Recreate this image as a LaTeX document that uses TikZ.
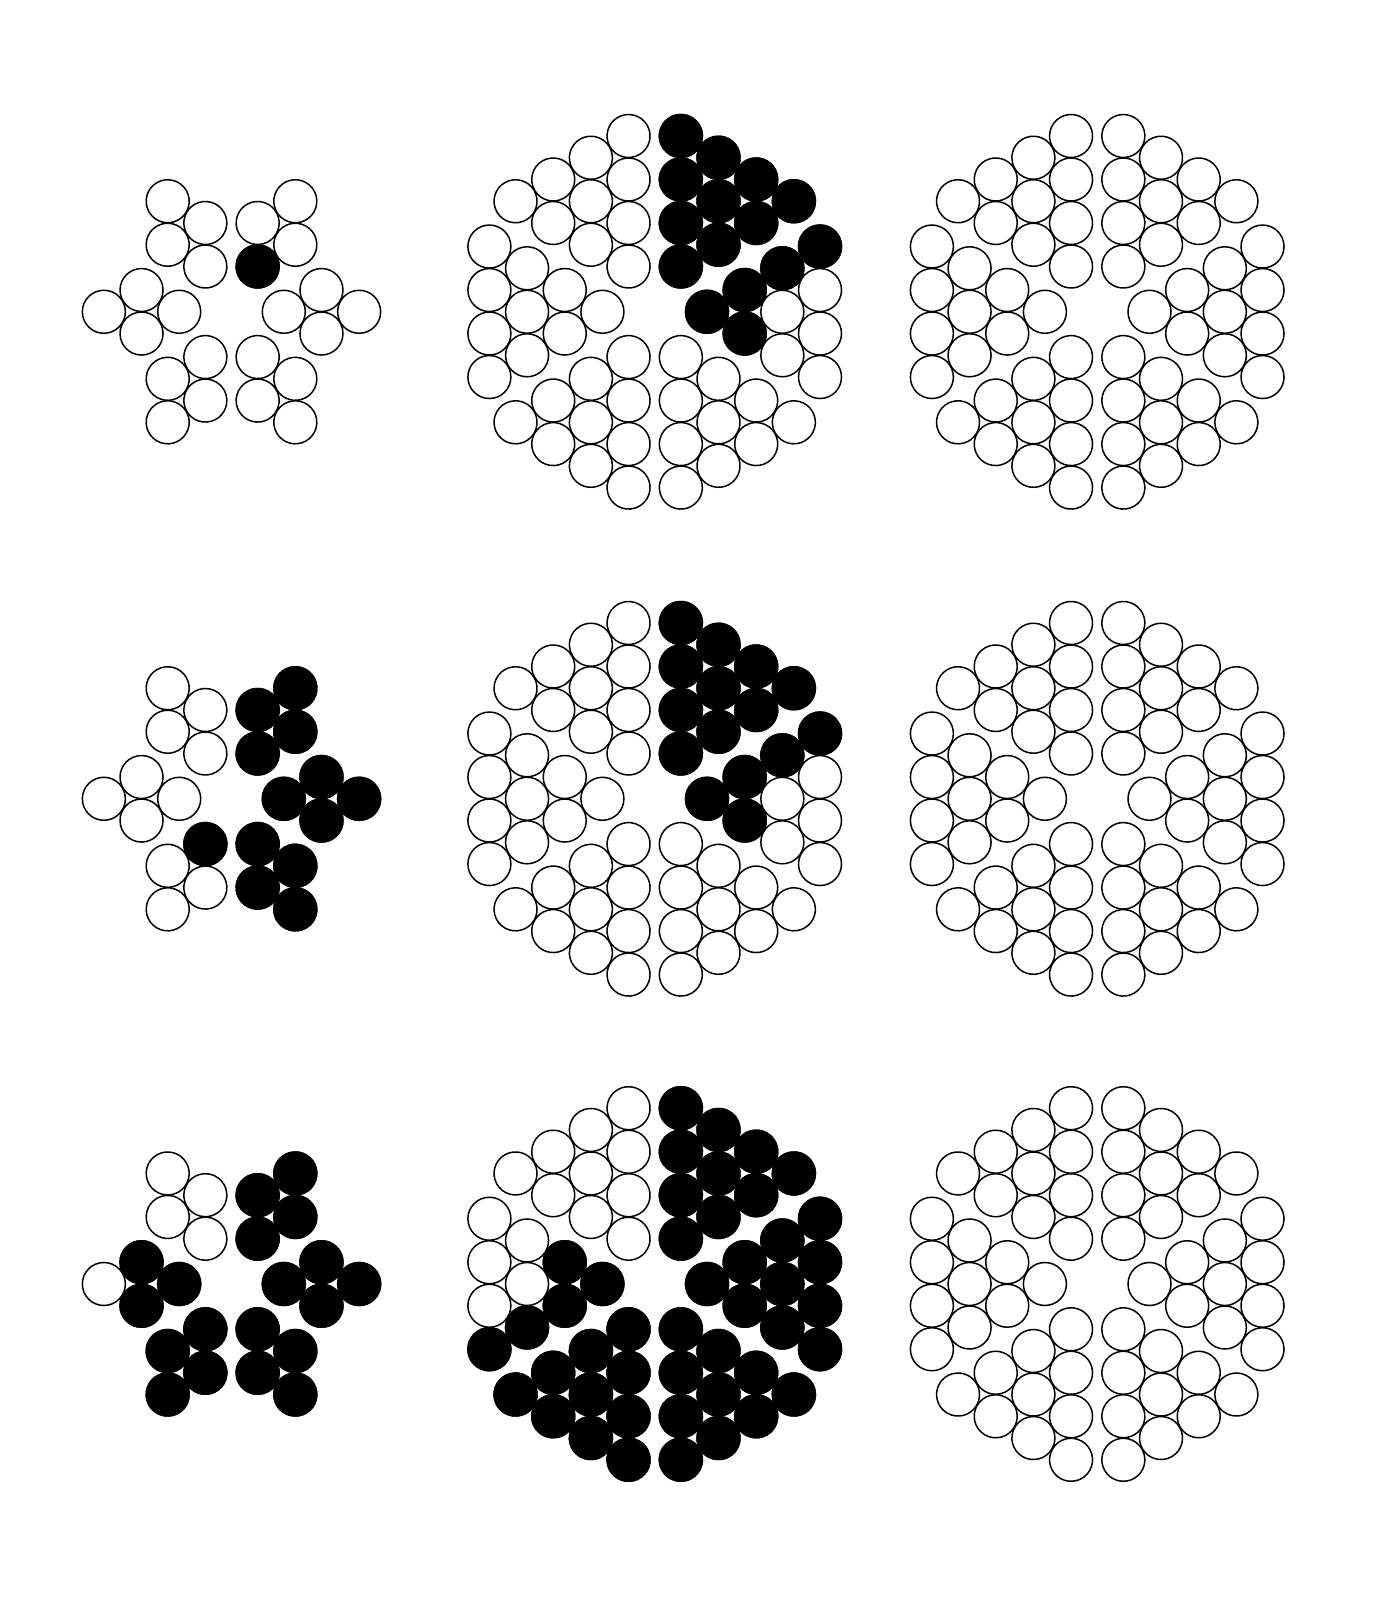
\documentclass[tikz,border=0pt]{standalone}
\def\cZ{52.3}\def\cH{37.67}\def\cD{43.5}\def\cR{21.5}
\tikzset{
  wc/.style={draw=black,line width=1.5pt,fill=white},
  bc/.style={draw=black,line width=1.5pt,fill=black}}
% one circle of a sector: #1 style, j, i
\newcommand\OneCirc[3]{\draw[#1] ({\cZ+#2*\cH},{(#3-#2/2)*\cD}) circle[radius=\cR];}
% big figure: six triangular sectors of 10 circles
\newcommand\BigFig[2]{%
  \foreach \t in {0,60,...,300}{%
    \begin{scope}[shift={(#1,#2)},rotate=\t]
      \foreach \j in {0,...,3}{\foreach \i in {0,...,\j}{\OneCirc{wc}{\j}{\i}}}
    \end{scope}}}
% small figure: six rhombi of 4 circles
\newcommand\SmallFig[2]{%
  \foreach \t in {0,60,...,300}{%
    \begin{scope}[shift={(#1,#2)},rotate=\t]
      \foreach \j/\i in {0/0,1/0,1/1,2/1}{\OneCirc{wc}{\j}{\i}}
    \end{scope}}}
% black circles: centre x, centre y, sector angle, list of j/i
\newcommand\Blk[4]{%
  \begin{scope}[shift={(#1,#2)},rotate=#3]
    \foreach \j/\i in {#4}{\OneCirc{bc}{\j}{\i}}
  \end{scope}}
\begin{document}
\begin{tikzpicture}[x=1pt,y=1pt]
\fill[white] (0,0) rectangle (1392,1598);
\useasboundingbox (0,0) rectangle (1392,1598);
% ---- row 1
\SmallFig{231.5}{1286.2}
\BigFig{654.7}{1286.2}
\BigFig{1097.2}{1286.2}
\Blk{231.5}{1286.2}{60}{0/0}
\Blk{654.7}{1286.2}{60}{0/0,1/0,1/1,2/0,2/1,2/2,3/0,3/1,3/2,3/3}
\Blk{654.7}{1286.2}{0}{0/0,1/0,1/1,2/2,3/3}
% ---- row 2
\SmallFig{231.5}{799.2}
\BigFig{654.7}{799.2}
\BigFig{1097.2}{799.2}
\foreach \s in {0,60,300}{\Blk{231.5}{799.2}{\s}{0/0,1/0,1/1,2/1}}
\Blk{231.5}{799.2}{240}{0/0}
\Blk{654.7}{799.2}{60}{0/0,1/0,1/1,2/0,2/1,2/2,3/0,3/1,3/2,3/3}
\Blk{654.7}{799.2}{0}{0/0,1/0,1/1,2/2,3/3}
% ---- row 3
\SmallFig{231.5}{314}
\BigFig{654.7}{314}
\BigFig{1097.2}{314}
\foreach \s in {0,60,240,300}{\Blk{231.5}{314}{\s}{0/0,1/0,1/1,2/1}}
\Blk{231.5}{314}{180}{0/0,1/0,1/1}
\foreach \s in {0,60,240,300}{\Blk{654.7}{314}{\s}{0/0,1/0,1/1,2/0,2/1,2/2,3/0,3/1,3/2,3/3}}
\Blk{654.7}{314}{180}{0/0,1/0,1/1,2/2,3/3}
\end{tikzpicture}
\end{document}
